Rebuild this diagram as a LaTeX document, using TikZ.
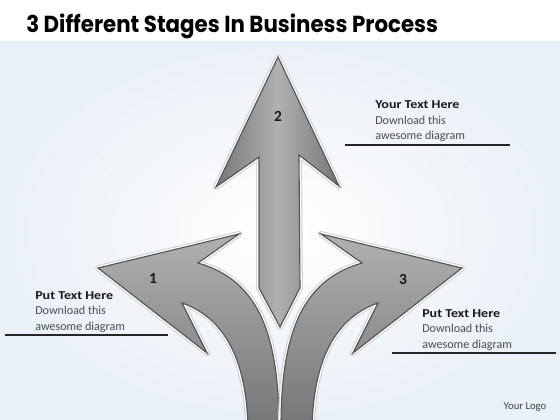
\documentclass[tikz,border=0pt]{standalone}
\usepackage{graphicx}
\usepackage{fontspec}
\setmainfont{Carlito}
\newfontfamily\titlefont{Poppins}
\usetikzlibrary{positioning}

\definecolor{bgblue}{RGB}{234,240,247}
\definecolor{arrowlight}{RGB}{176,176,176}
\definecolor{arrowdark}{RGB}{118,118,118}
\definecolor{arrowedge}{RGB}{84,84,84}

\tikzset{
  glow/.style={line width=4.2pt, draw=gray!35, line join=round},
  gap/.style={line width=2.6pt, draw=white, line join=round},
  rim/.style={draw=arrowedge, line width=0.8pt, line join=miter},
  numlabel/.style={font=\fontsize{11}{13}\selectfont\bfseries, text=black!90, inner sep=0},
  headtext/.style={font=\fontsize{8.6}{10}\selectfont\bfseries, text=black!90, anchor=base west, inner sep=0},
  bodytext/.style={font=\fontsize{8.6}{10}\selectfont, text=black!70, anchor=base west, inner sep=0},
  ruleline/.style={line width=0.8pt, draw=black!85}
}
\newcommand{\headline}[1]{\scalebox{1.16}[1]{#1}}

% left arrow outline, in pixels of the 560x420 picture
\newcommand{\sidearrow}{(98,268) -- (239,234) -- (198,263)
  .. controls (250,278) and (279,320) .. (279,426) -- (248,426)
  .. controls (246,360) and (225,318) .. (182,303) -- (207,353) -- cycle}
\newcommand{\midarrow}{(278,57) -- (339,186) -- (299,155) -- (300,288)
  -- (280,327) -- (259,288) -- (259,157) -- (216,187) -- cycle}

\begin{document}
\begin{tikzpicture}[x=0.025cm, y=-0.025cm]
  \useasboundingbox (0,0) rectangle (560,420);
  \fill[white] (0,0) rectangle (560,420);
  \shade[inner color=white, outer color=bgblue] (0,42) rectangle (560,420);

  \node[anchor=base west, inner sep=0, font=\titlefont\fontsize{16.5}{20}\selectfont\bfseries] (title) at (26,33) {\scalebox{0.92}[1]{3 Different Stages In Business Process}};

  % middle arrow
  \draw[glow] \midarrow;
  \draw[gap] \midarrow;
  \shade[left color=arrowdark, right color=arrowdark, middle color=arrowlight] \midarrow;
  \draw[rim] \midarrow;

  % left arrow
  \draw[glow] \sidearrow;
  \draw[gap] \sidearrow;
  \shade[top color=arrowlight, bottom color=arrowdark] \sidearrow;
  \draw[rim] \sidearrow;

  % right arrow (mirror of the left one)
  \begin{scope}[shift={(560,0)}, xscale=-1]
    \draw[glow] \sidearrow;
    \draw[gap] \sidearrow;
    \shade[top color=arrowlight, bottom color=arrowdark] \sidearrow;
    \draw[rim] \sidearrow;
  \end{scope}

  \node[numlabel] (num2) at (278,116) {2};
  \node[numlabel] (num1) at (153,278) {1};
  \node[numlabel] (num3) at (403,279) {3};

  % text blocks
  \node[headtext] (head2) at (375,109) {\headline{Your Text Here}};
  \node[bodytext] (body2a) at (375,124.5) {Download this};
  \node[bodytext] (body2b) at (375,140) {awesome diagram};
  \draw[ruleline] (345,145) -- (510,145);

  \node[headtext] (head1) at (35,299) {\headline{Put Text Here}};
  \node[bodytext] (body1a) at (35,314.5) {Download this};
  \node[bodytext] (body1b) at (35,330) {awesome diagram};
  \draw[ruleline] (5,335) -- (168,335);

  \node[headtext] (head3) at (422,317) {\headline{Put Text Here}};
  \node[bodytext] (body3a) at (422,332.5) {Download this};
  \node[bodytext] (body3b) at (422,348) {awesome diagram};
  \draw[ruleline] (392,353) -- (556,353);

  \node[font=\fontsize{7.6}{9}\selectfont, text=black!75, inner sep=0] (logo) at (525,407) {Your Logo};
\end{tikzpicture}
\end{document}
